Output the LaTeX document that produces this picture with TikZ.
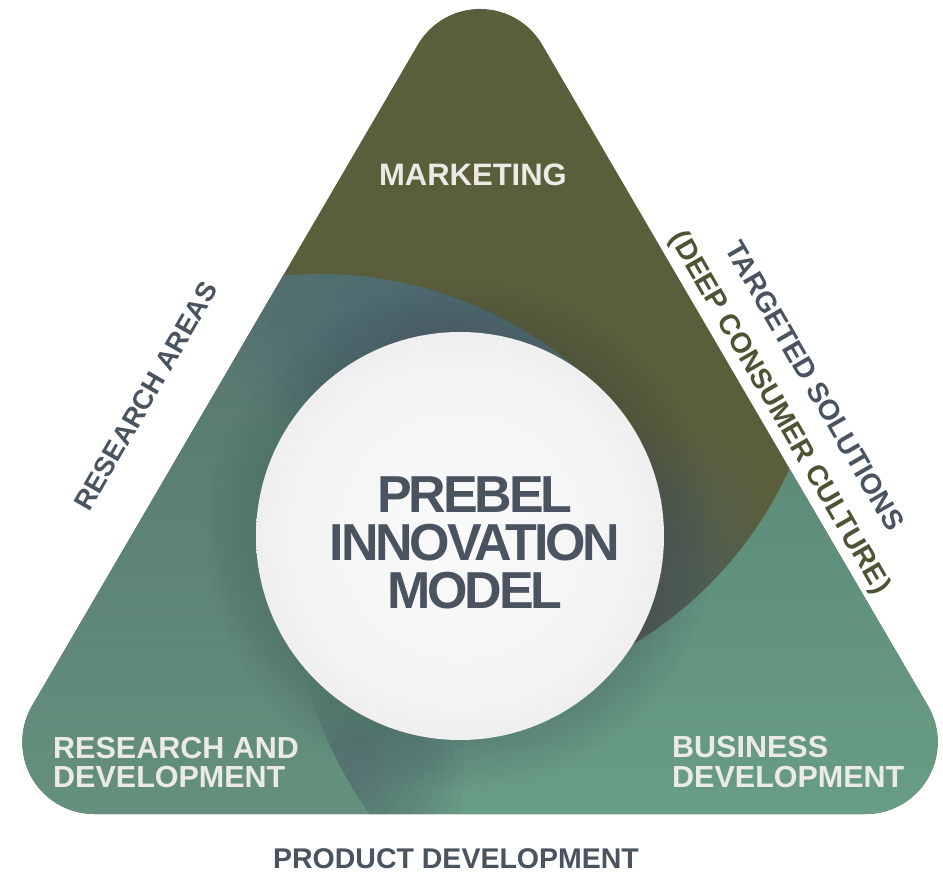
\documentclass[tikz,border=0pt]{standalone}
\usepackage{fontspec}
\setmainfont{Liberation Sans}
\newfontfamily\bigfont{Liberation Sans}[LetterSpace=-6]
\definecolor{cOlive}{HTML}{5A5E3A}
\definecolor{cLgTop}{HTML}{56756F}
\definecolor{cLgBot}{HTML}{64917D}
\definecolor{cRgTop}{HTML}{5C8B78}
\definecolor{cRgBot}{HTML}{699D85}
\definecolor{cSlate}{HTML}{4A5464}
\definecolor{cSlateB}{HTML}{4F6072}
\definecolor{cTxt}{HTML}{4A5461}
\definecolor{cTxtOl}{HTML}{4E5433}
\definecolor{cWht}{HTML}{ECEAE4}
\definecolor{cSa}{HTML}{FAFAFA}
\definecolor{cSb}{HTML}{F4F4F4}
\definecolor{cSc}{HTML}{E5E5E5}
\definecolor{cSd}{HTML}{D2D2D2}
\definecolor{cSe}{HTML}{BEBEBE}
\pgfdeclareradialshading{spheresh}{\pgfpoint{0bp}{0bp}}{color(0bp)=(cSa); color(20bp)=(cSb); color(34bp)=(cSc); color(44bp)=(cSd); color(50bp)=(cSe)}
\tikzset{
  wlab/.style={text=cWht, inner sep=0pt, font=\bfseries\fontsize{30.5}{30}\selectfont},
  dlab/.style={text=cTxt, inner sep=0pt, font=\bfseries\fontsize{28.5}{34}\selectfont},
  biglab/.style={text=cTxt, inner sep=0pt, anchor=base, font=\bigfont\bfseries\fontsize{52}{48}\selectfont},
  shadowlayer/.style={fill=#1, fill opacity=0.06}
}
\begin{document}
\begin{tikzpicture}[x=1pt,y=-1pt]
\useasboundingbox (0,0) rectangle (943,874);
\fill[white] (0,0) rectangle (943,874);
\coordinate (S) at (460,536);
\begin{scope}
  \clip (94.3,814) -- (865.7,814) arc[start angle=90,end angle=-30.2,radius=72]
        -- (542.2,44.7) arc[start angle=-30.25,end angle=-149.75,radius=72]
        -- (32.1,705.8) arc[start angle=210.2,end angle=90,radius=72] -- cycle;
  % olive base (marketing)
  \fill[cOlive] (0,0) rectangle (943,874);
  % left green region (research and development)
  \begin{scope}
    \clip (S) -- (606.2,396.3) arc[start angle=-43.7, end angle=-110, radius=396]
          -- (-200,300) -- (-200,1000) -- (436.5,885.4)
          arc[start angle=130, end angle=167.4, radius=396] -- cycle;
    \shade[top color=cLgTop, bottom color=cLgBot] (0,270) rectangle (943,820);
    \foreach \k in {1,...,14}
      \fill[shadowlayer=cSlateB] (455,330) ellipse[x radius=17*\k, y radius=9*\k];
  \end{scope}
  % olive shadow beside the sphere
  \begin{scope}
    \clip (S) -- (606.2,396.3) -- (1200,300) -- (1200,700) -- (632.6,644.6) -- cycle;
    \foreach \k in {1,...,13}
      \fill[shadowlayer=cSlateB] (670,585) ellipse[x radius=9*\k, y radius=12*\k];
  \end{scope}
  % right green region (business development)
  \begin{scope}
    \clip (S) -- (304.4,668.2) arc[start angle=167.4, end angle=130, radius=396]
          -- (1200,1000) -- (1200,350) -- (811.5,407.5)
          arc[start angle=15, end angle=59.05, radius=396] -- cycle;
    \shade[top color=cRgTop, bottom color=cRgBot] (0,450) rectangle (943,820);
    \foreach \k in {1,...,12}
      \fill[shadowlayer=cSlate] (345,770) circle[radius=10*\k];
  \end{scope}
  % soft ring shadow round the sphere
  \foreach \k in {1,...,10}
    \fill[cSlate, fill opacity=0.025] (S) circle[radius=204+5*\k];
\end{scope}
% sphere
\shade[shading=spheresh] (S) circle[radius=204];
% labels
\node[wlab, anchor=base, font=\bfseries\fontsize{31}{31}\selectfont] (mk) at (473,186) {MARKETING};
\node[biglab] (p1) at (475,513) {PREBEL};
\node[biglab] (p2) at (475,560) {INNOVATION};
\node[biglab] (p3) at (475,608) {MODEL};
\node[wlab, anchor=base west] (rd1) at (53,758) {RESEARCH AND};
\node[wlab, anchor=base west] (rd2) at (53,787) {DEVELOPMENT};
\node[wlab, anchor=base west] (bd1) at (672,757) {BUSINESS};
\node[wlab, anchor=base west] (bd2) at (672,787) {DEVELOPMENT};
\node[dlab, rotate=60, font=\bfseries\fontsize{27.5}{34}\selectfont] (ra) at (146,396) {RESEARCH AREAS};
\node[dlab, rotate=-60] (ts) at (815,386) {TARGETED SOLUTIONS};
\node[dlab, text=cTxtOl, rotate=-60] (dc) at (779,413) {(DEEP CONSUMER CULTURE)};
\node[dlab, anchor=base] (pd) at (456,868) {PRODUCT DEVELOPMENT};
\end{tikzpicture}
\end{document}
